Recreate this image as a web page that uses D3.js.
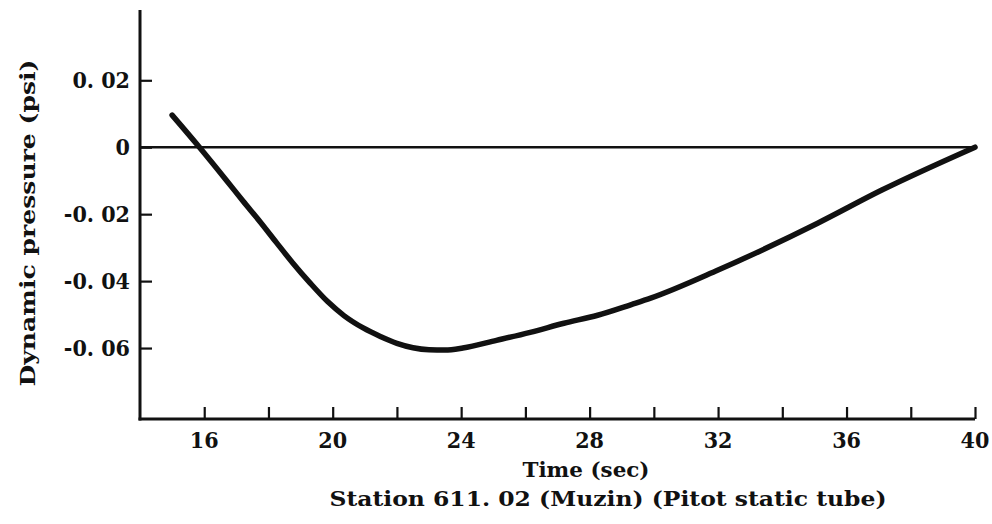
<!DOCTYPE html>
<html><head><meta charset="utf-8">
<script src="https://cdn.jsdelivr.net/npm/d3@7"></script>
<style>
body{margin:0;background:#fff;}
text{font-family:"DejaVu Serif","DejaVu Serif Condensed",serif;font-stretch:condensed;font-weight:bold;fill:#111;}
</style></head>
<body><svg id="c" width="992" height="524"></svg>
<script>
const timeSec = [15.0, 15.85, 16.7, 17.2, 17.75, 18.25, 18.75, 19.3, 19.85, 20.35, 20.95, 21.5, 22.0, 22.5, 23.0, 23.5, 24.05, 25.1, 26.15, 27.2, 28.25, 29.3, 29.9, 32.0, 35.1, 37.1, 40.0];
const pressurePsi = [0.0096, 0.0000, -0.0100, -0.0160, -0.0224, -0.0285, -0.0345, -0.0406, -0.0462, -0.0503, -0.0540, -0.0566, -0.0586, -0.0599, -0.0605, -0.0606, -0.0600, -0.0577, -0.0553, -0.0526, -0.0502, -0.0470, -0.0451, -0.0367, -0.0227, -0.0128, 0.0000];
const xTicks = [16, 18, 20, 22, 24, 26, 28, 30, 32, 34, 36, 38, 40];
const xTickLabels = ["16", "", "20", "", "24", "", "28", "", "32", "", "36", "", "40"];
const yTicks = [0.02, 0, -0.02, -0.04, -0.06];
const yTickLabels = ["0. 02", "0", "-0. 02", "-0. 04", "-0. 06"];

const svg = d3.select("#c");
const x = d3.scaleLinear().domain([14, 40]).range([140, 975]);
const y = d3.scaleLinear().domain([-0.0812, 0.041]).range([419, 10]);

// axes lines
svg.append("line").attr("x1", x(14)).attr("x2", x(14)).attr("y1", y(0.041)).attr("y2", y(-0.0812) + 1.5)
  .attr("stroke", "#111").attr("stroke-width", 3);
svg.append("line").attr("x1", x(14) - 1.5).attr("x2", x(40)).attr("y1", y(-0.0812)).attr("y2", y(-0.0812))
  .attr("stroke", "#111").attr("stroke-width", 3);

// x ticks (inward)
const xAxis = d3.axisTop(x).tickValues(xTicks).tickSize(12).tickFormat("");
const gx = svg.append("g").attr("transform", `translate(0,${y(-0.0812)})`).call(xAxis);
gx.select(".domain").remove();
gx.selectAll(".tick line").attr("stroke", "#111").attr("stroke-width", 2.2);
svg.append("g").selectAll("text").data(xTicks).join("text")
  .attr("x", d => x(d)).attr("y", 448).attr("text-anchor", "middle")
  .attr("font-size", 23).text((d, i) => xTickLabels[i]);

// y ticks (inward)
const yAxis = d3.axisRight(y).tickValues(yTicks).tickSize(12).tickFormat("");
const gy = svg.append("g").attr("transform", `translate(${x(14)},0)`).call(yAxis);
gy.select(".domain").remove();
gy.selectAll(".tick line").attr("stroke", "#111").attr("stroke-width", 2.2);
svg.append("g").selectAll("text").data(yTicks).join("text")
  .attr("x", 130).attr("y", d => y(d) + 8).attr("text-anchor", "end")
  .attr("font-size", 23).text((d, i) => yTickLabels[i]);

// zero line
svg.append("line").attr("x1", x(14)).attr("x2", x(40)).attr("y1", y(0)).attr("y2", y(0))
  .attr("stroke", "#111").attr("stroke-width", 2.6);

// curve
const line = d3.line().x(d => x(d[0])).y(d => y(d[1])).curve(d3.curveMonotoneX);
svg.append("path").datum(timeSec.map((t, i) => [t, pressurePsi[i]]))
  .attr("d", line).attr("fill", "none").attr("stroke", "#111")
  .attr("stroke-width", 5.5).attr("stroke-linecap", "round").attr("stroke-linejoin", "round");

// labels
svg.append("text").attr("x", 586).attr("y", 477).attr("text-anchor", "middle").attr("font-size", 21)
  .attr("textLength", 127).attr("lengthAdjust", "spacingAndGlyphs").text("Time (sec)");
svg.append("text").attr("x", 608).attr("y", 506).attr("text-anchor", "middle").attr("font-size", 21)
  .attr("textLength", 557).attr("lengthAdjust", "spacingAndGlyphs")
  .text("Station 611. 02 (Muzin) (Pitot static tube)");
svg.append("text").attr("transform", "translate(35,223) rotate(-90)").attr("text-anchor", "middle")
  .attr("font-size", 21).attr("textLength", 327).attr("lengthAdjust", "spacingAndGlyphs")
  .text("Dynamic pressure (psi)");
</script></body></html>
